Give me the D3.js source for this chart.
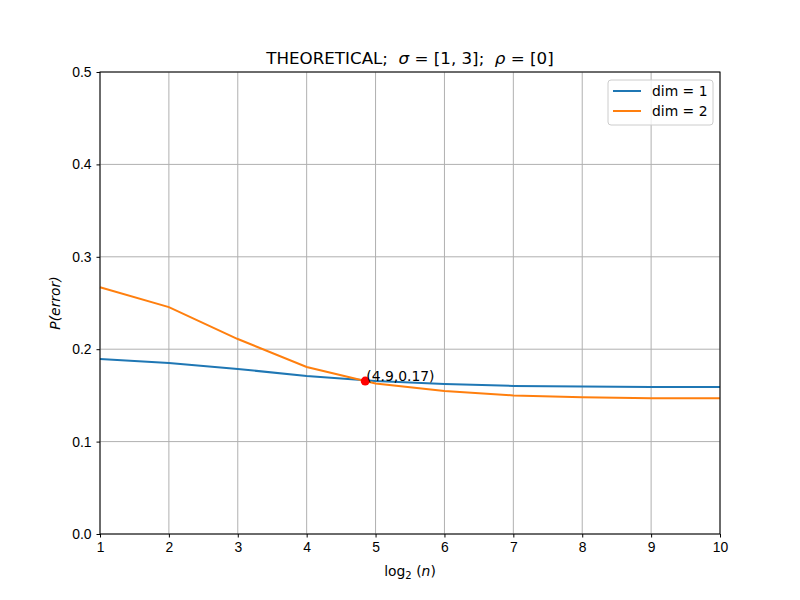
<!DOCTYPE html>
<html>
<head>
<meta charset="utf-8">
<script src="https://cdn.jsdelivr.net/npm/d3@7"></script>
<style>
  body { margin: 0; background: #fff; }
  svg { font-family: "DejaVu Sans", sans-serif; }
  svg text { white-space: pre; }
  .tick text { font-size: 13.9px; fill: #000; }
  .grid line { stroke: #b0b0b0; stroke-width: 1; }
</style>
</head>
<body>
<div id="chart"></div>
<script>
// values
const xs = [1, 2, 3, 4, 5, 6, 7, 8, 9, 10]
const dim1 = [0.1894, 0.185, 0.1786, 0.171, 0.1655, 0.1623, 0.1603, 0.1595, 0.1591, 0.159]
const dim2 = [0.267, 0.2456, 0.211, 0.1807, 0.163, 0.1547, 0.150, 0.148, 0.147, 0.1468]
const seriesNames = ["dim = 1", "dim = 2"]
const colors = ["#1f77b4", "#ff7f0e"]
const xTicks = [1, 2, 3, 4, 5, 6, 7, 8, 9, 10]
const yTicks = [0.0, 0.1, 0.2, 0.3, 0.4, 0.5]
const crossing = {x: 4.85, y: 0.1655, label: "(4.9,0.17)"}

const w = 800, h = 600,
      margin = {top: 72, right: 80, bottom: 66, left: 100}

const x = d3.scaleLinear().domain([1, 10]).range([margin.left, w - margin.right]),
      y = d3.scaleLinear().domain([0, 0.5]).range([h - margin.bottom, margin.top])

const svg = d3.select("#chart").append("svg")
  .attr("width", w).attr("height", h)

// grid
const grid = svg.append("g").attr("class", "grid")
grid.selectAll(".gx").data(xTicks).join("line")
  .attr("x1", d => x(d)).attr("x2", d => x(d))
  .attr("y1", y(0)).attr("y2", y(0.5))
grid.selectAll(".gy").data(yTicks).join("line")
  .attr("y1", d => y(d)).attr("y2", d => y(d))
  .attr("x1", x(1)).attr("x2", x(10))

// lines
const line = d3.line().x((d, i) => x(xs[i])).y(d => y(d))
;[dim1, dim2].forEach((s, i) => {
  svg.append("path")
    .datum(s)
    .attr("fill", "none")
    .attr("stroke", colors[i])
    .attr("stroke-width", 2)
    .attr("d", line)
})

// crossing point
svg.append("circle")
  .attr("cx", x(crossing.x)).attr("cy", y(crossing.y))
  .attr("r", 4.5).attr("fill", "red")
svg.append("text")
  .attr("x", x(crossing.x) + 1).attr("y", y(crossing.y) - 0.5)
  .attr("font-size", "13.9px")
  .text(crossing.label)

// axes
svg.append("g")
  .attr("transform", `translate(0,${y(0)})`)
  .call(d3.axisBottom(x).tickValues(xTicks).tickSize(3.5).tickPadding(5).tickFormat(d3.format("d")))
svg.append("g")
  .attr("transform", `translate(${x(1)},0)`)
  .call(d3.axisLeft(y).tickValues(yTicks).tickSize(3.5).tickPadding(5).tickFormat(d3.format(".1f")))
svg.selectAll(".domain").remove()

// frame
svg.append("rect")
  .attr("x", x(1)).attr("y", y(0.5))
  .attr("width", x(10) - x(1)).attr("height", y(0) - y(0.5))
  .attr("fill", "none").attr("stroke", "#000").attr("stroke-width", 1)

// title
const title = svg.append("text")
  .attr("x", (x(1) + x(10)) / 2).attr("y", 64)
  .attr("text-anchor", "middle")
  .attr("font-size", "16.7px")
title.append("tspan").text("THEORETICAL;  ")
title.append("tspan").attr("font-style", "italic").text("σ")
title.append("tspan").text(" = [1, 3];  ")
title.append("tspan").attr("font-style", "italic").text("ρ")
title.append("tspan").text(" = [0]")

// axis labels
const xl = svg.append("text")
  .attr("x", (x(1) + x(10)) / 2).attr("y", 576)
  .attr("text-anchor", "middle").attr("font-size", "13.9px")
xl.append("tspan").text("log")
xl.append("tspan").attr("font-size", "10px").attr("dy", 3).text("2")
xl.append("tspan").attr("dy", -3).text(" (")
xl.append("tspan").attr("font-style", "italic").text("n")
xl.append("tspan").text(")")

svg.append("text")
  .attr("transform", `translate(60,${(y(0) + y(0.5)) / 2}) rotate(-90)`)
  .attr("text-anchor", "middle").attr("font-size", "13.9px")
  .attr("font-style", "italic")
  .text("P(error)")

// legend
const lg = svg.append("g").attr("transform", "translate(608,80)")
lg.append("rect")
  .attr("width", 105).attr("height", 45).attr("rx", 3)
  .attr("fill", "#fff").attr("fill-opacity", 0.8)
  .attr("stroke", "#cccccc")
seriesNames.forEach((n, i) => {
  lg.append("line")
    .attr("x1", 5).attr("x2", 33)
    .attr("y1", 11 + i * 20).attr("y2", 11 + i * 20)
    .attr("stroke", colors[i]).attr("stroke-width", 2)
  lg.append("text")
    .attr("x", 44).attr("y", 16 + i * 20)
    .attr("font-size", "13.9px")
    .text(n)
})
</script>
</body>
</html>
